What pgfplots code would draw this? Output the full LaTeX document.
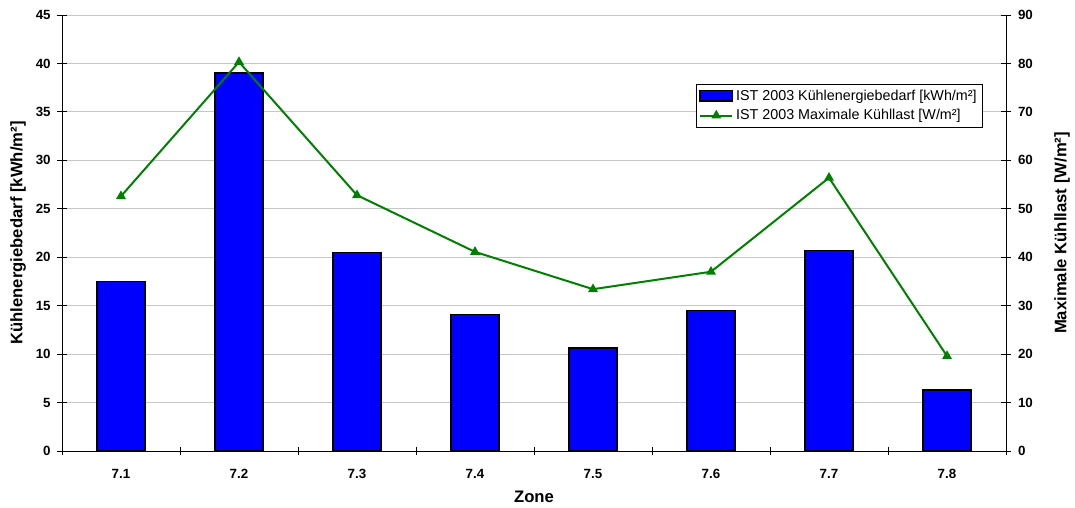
\documentclass[border=0pt]{standalone}
\usepackage{pgfplots}
\pgfplotsset{compat=1.18}
\usepackage{fontspec}
\setmainfont{Liberation Sans}
\definecolor{barblue}{RGB}{0,0,255}
\definecolor{linegreen}{RGB}{0,128,0}
\pgfplotsset{
  linelegend/.style={legend image code/.code={\draw[mark repeat=2,mark phase=2,##1] plot coordinates {(0cm,0cm) (0.425cm,0cm) (0.85cm,0cm)};}},
  barlegend/.style={legend image code/.code={\draw[fill=barblue,draw=black,line width=1.2pt] (0cm,-0.14cm) rectangle (0.85cm,0.14cm);}},
}
\begin{document}
\fontsize{10}{12}\selectfont
\begin{tikzpicture}
\pgfplotsset{
  common/.style={
    scale only axis, width=708pt, height=327pt,
    xmin=0.5, xmax=8.5,
    tick align=center,
    tick style={black, line width=0.6pt},
    ticklabel style={font=\fontsize{10}{12}\selectfont\bfseries},
    /pgf/number format/assume math mode=true,
    label style={font=\fontsize{12.5}{14}\selectfont\bfseries},
    axis line style={black, line width=0.7pt},
  }
}
\begin{axis}[common,
  ymin=0, ymax=45,
  axis x line*=bottom, axis y line*=left,
  xtick={1,...,8},
  xticklabels={7.1,7.2,7.3,7.4,7.5,7.6,7.7,7.8},
  major x tick style={draw=none},
  minor xtick={0.5,1.5,...,8.5},
  minor tick length=6pt,
  major tick length=7pt,
  xticklabel style={yshift=-6.5pt},
  yticklabel style={xshift=-1.5pt},
  ytick={0,5,...,45},
  ymajorgrids, grid style={gray!45, line width=0.6pt},
  xlabel={Zone},
  xlabel style={at={(axis description cs:0.5,-0.1055)}, anchor=center},
  ylabel={Kühlenergiebedarf [kWh/m²]},
  ylabel style={at={(axis description cs:-0.0466,0.5)}, anchor=center},
]
\addplot[ybar, bar width=36pt, fill=barblue, draw=black, line width=1.2pt]
  coordinates {(1,17.5) (2,39) (3,20.5) (4,14.1) (5,10.6) (6,14.5) (7,20.7) (8,6.3)};
\coordinate (SW) at (rel axis cs:0,0);
\coordinate (NE) at (rel axis cs:1,1);
\end{axis}
\begin{axis}[common,
  ymin=0, ymax=90,
  axis y line*=right, axis x line=none,
  ytick={0,10,...,90},
  major tick length=7pt,
  yticklabel style={xshift=2pt},
  ylabel={Maximale Kühllast [W/m²]},
  ylabel style={at={(axis description cs:1.0593,0.5)}, anchor=center},
  legend style={at={(0.975,0.842)}, anchor=north east, draw=black, fill=white,
    line width=0.6pt, font=\fontsize{10.75}{12}\selectfont, inner sep=2pt,
    row sep=1.5pt, /tikz/every even column/.append style={column sep=1pt}},
  legend cell align=left,
]
\addlegendimage{barlegend}
\addlegendentry{IST 2003 Kühlenergiebedarf [kWh/m²]}
\addplot[linegreen, line width=1.5pt, mark=triangle*, mark size=2.8pt, mark options={solid}, linelegend]
  coordinates {(1,52.6) (2,80.3) (3,52.8) (4,41.1) (5,33.4) (6,37.0) (7,56.4) (8,19.6)};
\addlegendentry{IST 2003 Maximale Kühllast [W/m²]}
\end{axis}
\pgfresetboundingbox
\path ([xshift=-46.5pt,yshift=-42.75pt]SW) rectangle ([xshift=51.75pt,yshift=11.25pt]NE);
\end{tikzpicture}
\end{document}
